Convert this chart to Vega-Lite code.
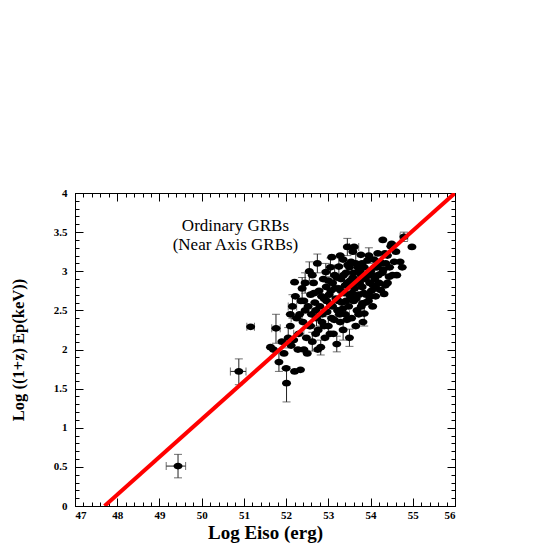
{
"$schema": "https://vega.github.io/schema/vega-lite/v6.json",
"width": 380, "height": 313,
"autosize": {"type": "none"},
"padding": {"left": 75, "top": 193, "right": 90, "bottom": 39},
"background": "white",
"config": {"view": {"stroke": null}, "axis": {"grid": false, "domainColor": "black", "tickColor": "black", "labelColor": "black", "titleColor": "black", "labelFont": "Liberation Serif", "titleFont": "Liberation Serif", "labelFontWeight": "bold", "titleFontWeight": "bold"}},
"datasets": {
"grb": [
{"x":49.44,"y":0.51,"xlo":49.16,"xhi":49.62,"ylo":0.36,"yhi":0.66},
{"x":50.88,"y":1.72,"xlo":50.68,"xhi":51.05,"ylo":1.55,"yhi":1.88},
{"x":51.16,"y":2.29,"xlo":51.07,"xhi":51.25},
{"x":51.63,"y":2.03},{"x":51.70,"y":2.00},
{"x":51.76,"y":2.27,"xlo":51.66,"xhi":51.86,"ylo":2.08,"yhi":2.45},
{"x":51.83,"y":1.84,"ylo":1.72,"yhi":1.97},
{"x":51.90,"y":2.10},{"x":51.95,"y":1.95},
{"x":52.01,"y":1.57,"ylo":1.33,"yhi":1.78},
{"x":52.00,"y":1.76},
{"x":52.05,"y":2.15,"ylo":2.02,"yhi":2.28},
{"x":52.10,"y":2.30},{"x":52.12,"y":2.05},{"x":52.20,"y":1.72},{"x":52.34,"y":1.74},{"x":52.42,"y":2.00},{"x":52.20,"y":2.86},
{"x":52.15,"y":2.55,"xlo":52.05,"xhi":52.25,"ylo":2.40,"yhi":2.70},
{"x":52.25,"y":2.40,"xlo":52.12,"xhi":52.38},
{"x":52.30,"y":2.20,"xlo":52.18,"xhi":52.42},
{"x":52.18,"y":2.12},{"x":52.35,"y":2.62},{"x":52.40,"y":2.35},{"x":52.28,"y":2.00},{"x":52.45,"y":2.50},{"x":52.48,"y":2.15},
{"x":52.38,"y":2.78,"ylo":2.65,"yhi":2.92},
{"x":52.22,"y":2.68},{"x":52.50,"y":1.95},{"x":52.55,"y":2.30},{"x":52.58,"y":2.70},{"x":52.60,"y":2.45},
{"x":52.62,"y":2.10,"ylo":1.98,"yhi":2.22},
{"x":52.65,"y":2.85},{"x":52.68,"y":2.60},{"x":52.70,"y":2.20},
{"x":52.72,"y":2.40,"xlo":52.62,"xhi":52.82,"ylo":2.30,"yhi":2.50},
{"x":52.74,"y":3.10,"ylo":2.98,"yhi":3.22},
{"x":52.75,"y":2.00},{"x":52.78,"y":2.75},{"x":52.80,"y":2.55},
{"x":52.82,"y":2.03,"ylo":1.93,"yhi":2.12},
{"x":52.85,"y":2.35},{"x":52.88,"y":2.90},{"x":52.90,"y":2.65},{"x":52.92,"y":2.15},{"x":52.95,"y":2.80},{"x":52.97,"y":2.48},
{"x":52.94,"y":2.99,"ylo":2.88,"yhi":3.10},
{"x":53.00,"y":2.30,"ylo":2.18,"yhi":2.42},
{"x":53.02,"y":2.70},{"x":53.05,"y":2.58},
{"x":53.05,"y":3.05,"ylo":2.93,"yhi":3.17},
{"x":53.08,"y":2.40},{"x":53.10,"y":2.85},{"x":53.12,"y":2.20},
{"x":53.15,"y":2.95,"ylo":2.82,"yhi":3.08},
{"x":53.18,"y":2.65},
{"x":53.20,"y":2.07,"ylo":1.97,"yhi":2.17},
{"x":53.22,"y":2.50},
{"x":53.25,"y":3.06,"ylo":2.95,"yhi":3.17},
{"x":53.25,"y":2.78},{"x":53.28,"y":2.35},{"x":53.30,"y":2.90},{"x":53.32,"y":2.60},{"x":53.35,"y":3.15},
{"x":53.35,"y":2.25,"ylo":2.12,"yhi":2.38},
{"x":53.38,"y":2.72},
{"x":53.40,"y":2.45,"xlo":53.30,"xhi":53.50},
{"x":53.42,"y":2.98},
{"x":53.45,"y":3.31,"ylo":3.20,"yhi":3.42},
{"x":53.45,"y":2.85},{"x":53.48,"y":2.55},
{"x":53.50,"y":2.15,"ylo":2.04,"yhi":2.26},
{"x":53.50,"y":3.05},{"x":53.52,"y":2.68},{"x":53.55,"y":2.40},{"x":53.58,"y":2.92},
{"x":53.61,"y":3.31,"xlo":53.50,"xhi":53.72},
{"x":53.60,"y":2.62},{"x":53.62,"y":2.78},
{"x":53.65,"y":3.10,"ylo":2.98,"yhi":3.22},
{"x":53.65,"y":2.30},{"x":53.68,"y":2.50},
{"x":53.70,"y":2.88,"xlo":53.60,"xhi":53.80},
{"x":53.72,"y":2.70},{"x":53.75,"y":3.00},{"x":53.77,"y":3.21},{"x":53.78,"y":2.55},{"x":53.80,"y":2.80},{"x":53.81,"y":2.59},{"x":53.82,"y":2.35},
{"x":53.85,"y":2.46,"ylo":2.30,"yhi":2.62},
{"x":53.85,"y":3.05},{"x":53.88,"y":2.90},{"x":53.90,"y":2.70},{"x":53.93,"y":3.14},{"x":53.95,"y":2.62},{"x":53.98,"y":2.85},
{"x":54.00,"y":3.00},{"x":54.02,"y":2.75},{"x":54.05,"y":2.55},{"x":54.08,"y":3.15},{"x":54.10,"y":2.90},{"x":54.12,"y":2.68},{"x":54.15,"y":3.05},{"x":54.17,"y":3.23},{"x":54.20,"y":2.85},{"x":54.24,"y":2.76},
{"x":54.25,"y":3.10,"ylo":3.00,"yhi":3.20},
{"x":54.28,"y":2.98},{"x":54.29,"y":3.40},{"x":54.32,"y":2.71},{"x":54.34,"y":3.23},{"x":54.36,"y":3.10},{"x":54.40,"y":2.85},{"x":54.44,"y":2.93},{"x":54.48,"y":3.32},{"x":54.52,"y":2.95},{"x":54.56,"y":3.12},{"x":54.60,"y":3.25},{"x":54.70,"y":3.12},
{"x":54.79,"y":3.44,"xlo":54.70,"xhi":54.88,"ylo":3.38,"yhi":3.50},
{"x":54.98,"y":3.31},
{"x":52.10,"y":2.45},{"x":52.32,"y":2.45},{"x":52.42,"y":2.62},{"x":52.52,"y":2.55},{"x":52.58,"y":2.30},{"x":52.66,"y":2.72},{"x":52.70,"y":2.50},{"x":52.76,"y":2.25},{"x":52.84,"y":2.68},{"x":52.86,"y":2.45},{"x":52.90,"y":2.30},{"x":52.96,"y":2.62},{"x":53.00,"y":2.88},{"x":53.04,"y":2.20},{"x":53.06,"y":2.75},{"x":53.10,"y":2.55},{"x":53.14,"y":2.38},{"x":53.16,"y":2.78},{"x":53.20,"y":2.92},{"x":53.24,"y":2.62},{"x":53.26,"y":2.45},{"x":53.30,"y":2.75},{"x":53.34,"y":2.52},{"x":53.36,"y":2.95},{"x":53.40,"y":2.82},{"x":53.42,"y":2.62},{"x":53.44,"y":2.38},{"x":53.46,"y":3.08},{"x":53.52,"y":2.88},{"x":53.54,"y":3.12},{"x":53.56,"y":2.72},{"x":53.60,"y":2.98},{"x":53.64,"y":2.85},{"x":53.66,"y":2.65},{"x":53.70,"y":3.05},{"x":53.72,"y":2.45},{"x":53.74,"y":2.85},{"x":53.78,"y":2.95},{"x":53.80,"y":3.10},{"x":53.84,"y":2.72},{"x":53.88,"y":2.60},{"x":53.92,"y":2.95},
{"x":53.96,"y":3.20,"ylo":3.10,"yhi":3.30},
{"x":54.00,"y":2.68},{"x":54.04,"y":2.95},{"x":54.06,"y":2.82},{"x":54.10,"y":3.05},{"x":54.14,"y":2.78},{"x":54.18,"y":2.95},{"x":54.22,"y":3.12},{"x":54.30,"y":3.02},{"x":54.35,"y":2.82},{"x":54.40,"y":3.20},{"x":54.45,"y":3.05},{"x":54.50,"y":3.35},{"x":54.62,"y":2.95},{"x":54.75,"y":3.05},
{"x":52.45,"y":2.85,"ylo":2.72,"yhi":2.98},
{"x":52.62,"y":2.95},
{"x":52.55,"y":3.00,"ylo":2.88,"yhi":3.12},
{"x":53.08,"y":3.18},{"x":53.28,"y":3.20},{"x":53.58,"y":3.25}
],
"fit": [{"x":47.7,"y":0},{"x":56,"y":4}],
"label": [{"x":50.8,"y":3.58,"t":"Ordinary GRBs"},{"x":50.8,"y":3.34,"t":"(Near Axis GRBs)"}]
},
"resolve": {"axis": {"x": "independent", "y": "independent"}},
"layer": [
{"data": {"name": "grb"}, "transform": [{"filter": "isValid(datum.ylo)"}],
 "mark": {"type": "rule", "color": "#222", "strokeWidth": 1},
 "encoding": {
  "x": {"field": "x", "type": "quantitative", "scale": {"domain": [47, 56], "nice": false, "zero": false},
        "axis": {"orient": "top", "values": [47,48,49,50,51,52,53,54,55,56], "tickSize": -8, "labels": false, "title": null}},
  "y": {"field": "ylo", "type": "quantitative", "scale": {"domain": [0, 4], "nice": false, "zero": false},
        "axis": {"orient": "right", "values": [0,0.5,1,1.5,2,2.5,3,3.5,4], "tickSize": -8, "labels": false, "title": null}},
  "y2": {"field": "yhi"}}},
{"data": {"name": "grb"}, "transform": [{"filter": "isValid(datum.xlo)"}],
 "mark": {"type": "rule", "color": "#222", "strokeWidth": 1},
 "encoding": {
  "x": {"field": "xlo", "type": "quantitative",
        "axis": {"orient": "top", "values": [47,47.2,47.4,47.6,47.8,48,48.2,48.4,48.6,48.8,49,49.2,49.4,49.6,49.8,50,50.2,50.4,50.6,50.8,51,51.2,51.4,51.6,51.8,52,52.2,52.4,52.6,52.8,53,53.2,53.4,53.6,53.8,54,54.2,54.4,54.6,54.8,55,55.2,55.4,55.6,55.8,56], "tickSize": -4, "labels": false, "title": null, "domain": false}},
  "x2": {"field": "xhi"},
  "y": {"field": "y", "type": "quantitative",
        "axis": {"orient": "right", "values": [0,0.1,0.2,0.3,0.4,0.5,0.6,0.7,0.8,0.9,1,1.1,1.2,1.3,1.4,1.5,1.6,1.7,1.8,1.9,2,2.1,2.2,2.3,2.4,2.5,2.6,2.7,2.8,2.9,3,3.1,3.2,3.3,3.4,3.5,3.6,3.7,3.8,3.9,4], "tickSize": -4, "labels": false, "title": null, "domain": false}}}},
{"data": {"name": "grb"}, "transform": [{"filter": "isValid(datum.ylo)"}],
 "mark": {"type": "tick", "orient": "horizontal", "color": "#333", "size": 8, "thickness": 1},
 "encoding": {"x": {"field": "x", "type": "quantitative", "axis": null}, "y": {"field": "ylo", "type": "quantitative", "axis": null}}},
{"data": {"name": "grb"}, "transform": [{"filter": "isValid(datum.ylo)"}],
 "mark": {"type": "tick", "orient": "horizontal", "color": "#333", "size": 8, "thickness": 1},
 "encoding": {"x": {"field": "x", "type": "quantitative", "axis": null}, "y": {"field": "yhi", "type": "quantitative", "axis": null}}},
{"data": {"name": "grb"}, "transform": [{"filter": "isValid(datum.xlo)"}],
 "mark": {"type": "tick", "orient": "vertical", "color": "#333", "size": 8, "thickness": 1},
 "encoding": {"x": {"field": "xlo", "type": "quantitative", "axis": null}, "y": {"field": "y", "type": "quantitative", "axis": null}}},
{"data": {"name": "grb"}, "transform": [{"filter": "isValid(datum.xlo)"}],
 "mark": {"type": "tick", "orient": "vertical", "color": "#333", "size": 8, "thickness": 1},
 "encoding": {"x": {"field": "xhi", "type": "quantitative", "axis": null}, "y": {"field": "y", "type": "quantitative", "axis": null}}},
{"data": {"name": "grb"},
 "mark": {"type": "point", "filled": true, "color": "black", "opacity": 1, "size": 81, "shape": "M-1,0A1,0.75,0,1,1,1,0A1,0.75,0,1,1,-1,0Z"},
 "encoding": {
  "x": {"field": "x", "type": "quantitative",
        "axis": {"orient": "bottom", "values": [47,47.2,47.4,47.6,47.8,48,48.2,48.4,48.6,48.8,49,49.2,49.4,49.6,49.8,50,50.2,50.4,50.6,50.8,51,51.2,51.4,51.6,51.8,52,52.2,52.4,52.6,52.8,53,53.2,53.4,53.6,53.8,54,54.2,54.4,54.6,54.8,55,55.2,55.4,55.6,55.8,56], "tickSize": -4, "labels": false, "title": null, "domain": false}},
  "y": {"field": "y", "type": "quantitative",
        "axis": {"orient": "left", "values": [0,0.1,0.2,0.3,0.4,0.5,0.6,0.7,0.8,0.9,1,1.1,1.2,1.3,1.4,1.5,1.6,1.7,1.8,1.9,2,2.1,2.2,2.3,2.4,2.5,2.6,2.7,2.8,2.9,3,3.1,3.2,3.3,3.4,3.5,3.6,3.7,3.8,3.9,4], "tickSize": -4, "labels": false, "title": null, "domain": false}}}},
{"data": {"name": "fit"},
 "mark": {"type": "line", "color": "#ff0000", "strokeWidth": 4, "clip": true},
 "encoding": {
  "x": {"field": "x", "type": "quantitative",
        "axis": {"orient": "bottom", "values": [47,48,49,50,51,52,53,54,55,56], "tickSize": -8, "labelPadding": 11, "labelFontSize": 11, "format": "d", "title": "Log Eiso (erg)", "titleFontSize": 19, "titlePadding": 3}},
  "y": {"field": "y", "type": "quantitative",
        "axis": {"orient": "left", "values": [0,0.5,1,1.5,2,2.5,3,3.5,4], "tickSize": -8, "labelPadding": 16, "labelFontSize": 11, "format": "~g", "title": "Log ((1+z) Ep(keV))", "titleFontSize": 16.5, "titlePadding": 27}}}},
{"data": {"name": "label"},
 "mark": {"type": "text", "font": "Liberation Serif", "fontSize": 17, "color": "black", "align": "center", "baseline": "middle"},
 "encoding": {"x": {"field": "x", "type": "quantitative", "axis": null}, "y": {"field": "y", "type": "quantitative", "axis": null}, "text": {"field": "t"}}}
]
}
